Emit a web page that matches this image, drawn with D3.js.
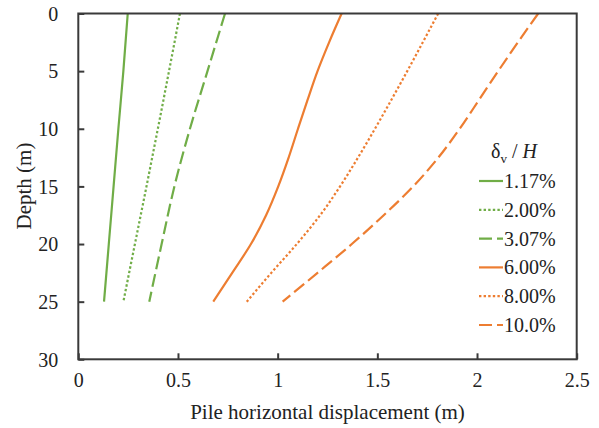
<!DOCTYPE html>
<html>
<head>
<meta charset="utf-8">
<script src="https://cdn.jsdelivr.net/npm/d3@7/dist/d3.min.js"></script>
<style>
  html, body { margin: 0; padding: 0; background: #fff; }
  svg { display: block; }
</style>
</head>
<body>
<svg id="chart" width="599" height="428"></svg>
<script>
// Depth levels (m) at which each displacement profile is sampled
const depthsFine = [0, 2.5, 5, 7.5, 10, 12.5, 15, 17.5, 20, 22.5, 25];
const depthsCoarse = [0, 5, 10, 15, 20, 25];

// Pile horizontal displacement (m) for each settlement ratio δv/H
const disp117 = [0.248, 0.226, 0.201, 0.177, 0.153, 0.129];
const disp200 = [0.510, 0.455, 0.399, 0.342, 0.284, 0.226];
const disp307 = [0.736, 0.648, 0.560, 0.482, 0.418, 0.356];
const disp600 = [1.321, 1.258, 1.200, 1.150, 1.102, 1.055, 1.003, 0.942, 0.866, 0.772, 0.677];
const disp800 = [1.805, 1.728, 1.650, 1.570, 1.488, 1.403, 1.313, 1.213, 1.096, 0.968, 0.845];
const disp1000 = [2.307, 2.205, 2.106, 2.010, 1.913, 1.806, 1.680, 1.532, 1.372, 1.200, 1.025];

const seriesLabels = ["1.17%", "2.00%", "3.07%", "6.00%", "8.00%", "10.0%"];
const xTicks = [0, 0.5, 1, 1.5, 2, 2.5];
const yTicks = [0, 5, 10, 15, 20, 25, 30];

const green = "#70AD47", orange = "#ED7D31";
const dotted = "2.4,2.2", dashed = "13,5";

const series = [
  { label: seriesLabels[0], depth: depthsCoarse, disp: disp117, color: green, dash: null },
  { label: seriesLabels[1], depth: depthsCoarse, disp: disp200, color: green, dash: dotted },
  { label: seriesLabels[2], depth: depthsCoarse, disp: disp307, color: green, dash: dashed },
  { label: seriesLabels[3], depth: depthsFine, disp: disp600, color: orange, dash: null },
  { label: seriesLabels[4], depth: depthsFine, disp: disp800, color: orange, dash: dotted },
  { label: seriesLabels[5], depth: depthsFine, disp: disp1000, color: orange, dash: dashed }
];

const FONT = '"Liberation Serif"';
const fontSize = 20;
const titleSize = 21;
const textColor = "#222";
const axisColor = "#3a3a3a";

const svg = d3.select("#chart");
const plot = { left: 78.3, right: 576.7, top: 13.5, bottom: 359.3 };

const x = d3.scaleLinear().domain([0, 2.5]).range([plot.left, plot.right]);
const y = d3.scaleLinear().domain([0, 30]).range([plot.top, plot.bottom]);

function styleText(sel, size = fontSize) {
  return sel.style("font-family", FONT).style("font-size", size + "px").style("fill", textColor);
}

// Curves
const line = d3.line()
  .x(d => x(d[0]))
  .y(d => y(d[1]))
  .curve(d3.curveMonotoneY);

svg.append("g").selectAll("path")
  .data(series)
  .join("path")
  .attr("d", s => line(s.disp.map((v, i) => [v, s.depth[i]])))
  .attr("fill", "none")
  .attr("stroke", s => s.color)
  .attr("stroke-width", 2.2)
  .attr("stroke-dasharray", s => s.dash);

// Frame
svg.append("rect")
  .attr("x", plot.left).attr("y", plot.top)
  .attr("width", plot.right - plot.left).attr("height", plot.bottom - plot.top)
  .attr("fill", "none").attr("stroke", axisColor).attr("stroke-width", 2);

// Left axis: inward ticks, labels on the left
const yAxis = d3.axisLeft(y).tickValues(yTicks).tickSizeInner(-6).tickSizeOuter(0).tickPadding(20)
  .tickFormat(d3.format("d"));
const gy = svg.append("g").attr("transform", `translate(${plot.left},0)`).call(yAxis);
gy.attr("font-family", null).attr("font-size", null);
gy.select(".domain").remove();
gy.selectAll(".tick line").attr("stroke", axisColor).attr("stroke-width", 2);
styleText(gy.selectAll(".tick text")).attr("dy", "0.34em");

// Bottom axis: inward ticks
const xAxis = d3.axisBottom(x).tickValues(xTicks).tickSizeInner(-6).tickSizeOuter(0).tickPadding(14)
  .tickFormat(d => String(d));
const gx = svg.append("g").attr("transform", `translate(0,${plot.bottom})`).call(xAxis);
gx.attr("font-family", null).attr("font-size", null);
gx.select(".domain").remove();
gx.selectAll(".tick line").attr("stroke", axisColor).attr("stroke-width", 2);
styleText(gx.selectAll(".tick text"));

// Axis titles
styleText(svg.append("text"), titleSize)
  .attr("x", (plot.left + plot.right) / 2).attr("y", 419)
  .attr("text-anchor", "middle")
  .text("Pile horizontal displacement (m)");

styleText(svg.append("text"), titleSize)
  .attr("transform", `translate(31,186) rotate(-90)`)
  .attr("text-anchor", "middle")
  .text("Depth (m)");

// Legend
const legendTitle = styleText(svg.append("text")).attr("x", 491).attr("y", 158);
legendTitle.append("tspan").text("δ");
legendTitle.append("tspan").style("font-size", "13px").attr("dy", 5).text("v");
legendTitle.append("tspan").attr("dy", -5).text(" / ");
legendTitle.append("tspan").style("font-style", "italic").text("H");

const legendY = d3.scalePoint().domain(seriesLabels).range([181, 325]);
const lg = svg.append("g").selectAll("g").data(series).join("g")
  .attr("transform", s => `translate(0,${legendY(s.label)})`);
lg.append("line")
  .attr("x1", 479).attr("x2", 503).attr("y1", 0).attr("y2", 0)
  .attr("stroke", s => s.color).attr("stroke-width", 2.2)
  .attr("stroke-dasharray", s => s.dash);
styleText(lg.append("text"))
  .attr("x", 504).attr("y", 0).attr("dy", "0.35em")
  .text(s => s.label);
</script>
</body>
</html>
